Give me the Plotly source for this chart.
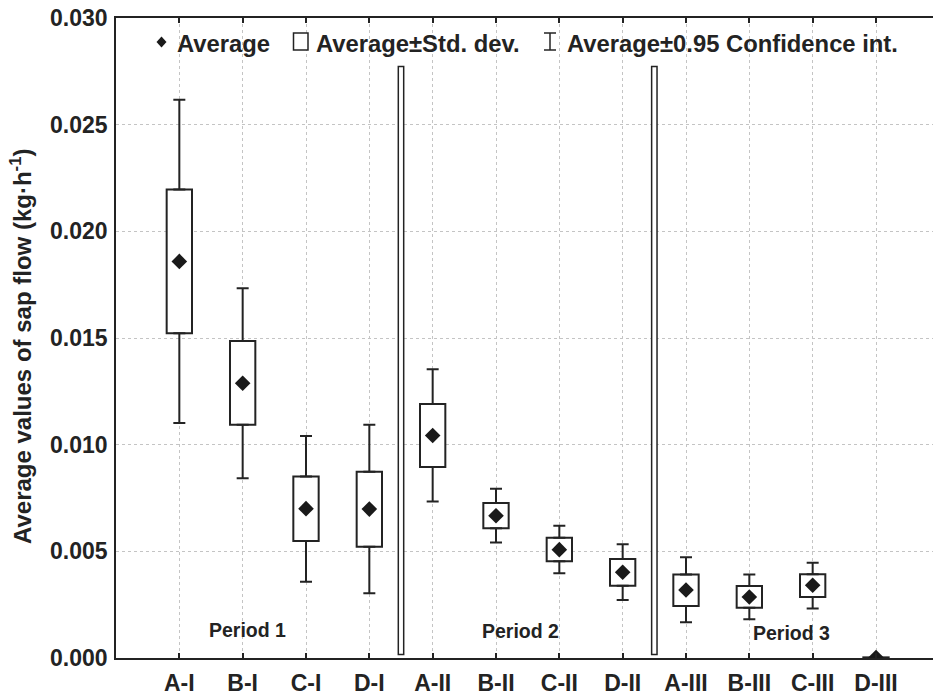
import plotly.graph_objects as go

# ---------------- data ----------------
categories = ["A-I", "B-I", "C-I", "D-I", "A-II", "B-II", "C-II", "D-II",
              "A-III", "B-III", "C-III", "D-III"]
mean_vals = [0.01859, 0.01288, 0.00700, 0.00698, 0.01043, 0.00667, 0.00508, 0.00402,
             0.00319, 0.00286, 0.00341, 0.00002]
sd_high = [0.02196, 0.01486, 0.00851, 0.00873, 0.01191, 0.00726, 0.00564, 0.00464,
           0.00391, 0.00338, 0.00392, 0.00003]
sd_low = [0.01522, 0.01093, 0.00549, 0.00522, 0.00895, 0.00608, 0.00453, 0.00339,
          0.00244, 0.00235, 0.00286, 0.00001]
ci_high = [0.02617, 0.01733, 0.01041, 0.01093, 0.01353, 0.00793, 0.00620, 0.00533,
           0.00472, 0.00391, 0.00446, 0.00004]
ci_low = [0.01101, 0.00843, 0.00358, 0.00303, 0.00734, 0.00541, 0.00397, 0.00272,
          0.00168, 0.00182, 0.00232, 0.00000]

separator_x = [3.5, 7.5]
separator_low = [0.00016, 0.00016]
separator_high = [0.02773, 0.02773]

period_labels = ["Period 1", "Period 2", "Period 3"]
period_x = [1.07, 5.38, 9.67]
period_y = [0.00133, 0.00128, 0.00118]

y_ticks = [0.000, 0.005, 0.010, 0.015, 0.020, 0.025, 0.030]

# ---------------- style ----------------
INK = "#232323"
FONT = "Liberation Sans, Arial, sans-serif"
W, H = 933, 694
ML, MR, MT, MB = 116, 0, 18, 36
PW, PH = W - ML - MR, H - MT - MB

def px(xp):
    return (xp - ML) / PW

def py(yp):
    return (H - MB - yp) / PH

xs = list(range(len(categories)))

fig = go.Figure()

# std-dev boxes
fig.add_trace(go.Bar(
    x=xs, y=[h - l for h, l in zip(sd_high, sd_low)], base=sd_low, width=0.4,
    marker=dict(color="white", line=dict(color=INK, width=2)),
    showlegend=False, hoverinfo="skip"))

# period separators
fig.add_trace(go.Bar(
    x=separator_x, y=[h - l for h, l in zip(separator_high, separator_low)],
    base=separator_low, width=0.085,
    marker=dict(color="white", line=dict(color=INK, width=1.5)),
    showlegend=False, hoverinfo="skip"))

# confidence whiskers (upper and lower)
fig.add_trace(go.Scatter(
    x=xs, y=sd_high, mode="markers", marker=dict(size=1, opacity=0),
    error_y=dict(type="data", symmetric=False,
                 array=[c - s for c, s in zip(ci_high, sd_high)],
                 arrayminus=[0] * len(xs), color=INK, thickness=2, width=6),
    showlegend=False, hoverinfo="skip"))
fig.add_trace(go.Scatter(
    x=xs, y=sd_low, mode="markers", marker=dict(size=1, opacity=0),
    error_y=dict(type="data", symmetric=False,
                 array=[0] * len(xs),
                 arrayminus=[s - c for s, c in zip(sd_low, ci_low)],
                 color=INK, thickness=2, width=6),
    showlegend=False, hoverinfo="skip"))

# means
fig.add_trace(go.Scatter(
    x=xs, y=mean_vals, mode="markers",
    marker=dict(symbol="diamond", size=12, color="#1a1a1a"),
    showlegend=False))

annotations = []
for lab, x, y in zip(period_labels, period_x, period_y):
    annotations.append(dict(x=x, y=y, xref="x", yref="y", text=lab, showarrow=False,
                            font=dict(family=FONT, size=19.5, color=INK, weight="bold")))

# y-axis title
annotations.append(dict(x=px(21), y=py(347), xref="paper", yref="paper",
                        text="Average values of sap flow (kg·h<sup>-1</sup>)",
                        textangle=-90, showarrow=False, xanchor="center", yanchor="middle",
                        font=dict(family=FONT, size=24, color=INK, weight="bold")))

# legend texts
for txt, xl in [("Average", 175), ("Average±Std. dev.", 314), ("Average±0.95 Confidence int.", 565)]:
    annotations.append(dict(x=px(xl), y=py(43), xref="paper", yref="paper", text=txt,
                            showarrow=False, xanchor="left", yanchor="middle",
                            font=dict(family=FONT, size=23.8, color=INK, weight="bold")))

shapes = []
# legend glyphs
cx, cy = 161.5, 42
shapes.append(dict(type="path", xref="paper", yref="paper",
                   path=f"M {px(cx-5)} {py(cy)} L {px(cx)} {py(cy-5.5)} L {px(cx+5)} {py(cy)} L {px(cx)} {py(cy+5.5)} Z",
                   fillcolor="#1a1a1a", line=dict(width=0)))
shapes.append(dict(type="rect", xref="paper", yref="paper",
                   x0=px(293.5), x1=px(308), y0=py(50), y1=py(33),
                   line=dict(color=INK, width=1.5), fillcolor="white"))
for (x0, y0, x1, y1) in [(550, 33, 550, 50), (544, 33, 556, 33), (544, 50, 556, 50)]:
    shapes.append(dict(type="line", xref="paper", yref="paper",
                       x0=px(x0), y0=py(y0), x1=px(x1), y1=py(y1),
                       line=dict(color=INK, width=1.5)))

fig.update_layout(
    width=W, height=H, autosize=False,
    margin=dict(l=ML, r=MR, t=MT, b=MB, pad=0),
    paper_bgcolor="white", plot_bgcolor="white",
    barmode="overlay", showlegend=False,
    annotations=annotations, shapes=shapes,
    xaxis=dict(range=[-1, 11.9], tickmode="array", tickvals=xs, ticktext=categories,
               ticks="inside", ticklen=5, tickwidth=1.5, tickcolor=INK,
               showline=True, linecolor=INK, linewidth=1.5, mirror="ticks",
               showgrid=True, gridcolor="#c4c4c4", griddash="dot", gridwidth=1,
               zeroline=False, ticklabelstandoff=4, automargin=False,
               tickfont=dict(family=FONT, size=23, color=INK, weight="bold")),
    yaxis=dict(range=[0, 0.030], tickmode="array", tickvals=y_ticks,
               ticktext=[f"{v:.3f}" for v in y_ticks], ticks="",
               showline=True, linecolor=INK, linewidth=1.5, mirror=False,
               showgrid=True, gridcolor="#c4c4c4", griddash="dot", gridwidth=1,
               zeroline=False, ticklabelstandoff=2, automargin=False,
               tickfont=dict(family=FONT, size=23, color=INK, weight="bold")),
)

fig.write_html("out.html", config={"displayModeBar": False},
               post_script="document.body.style.margin='0px';")
